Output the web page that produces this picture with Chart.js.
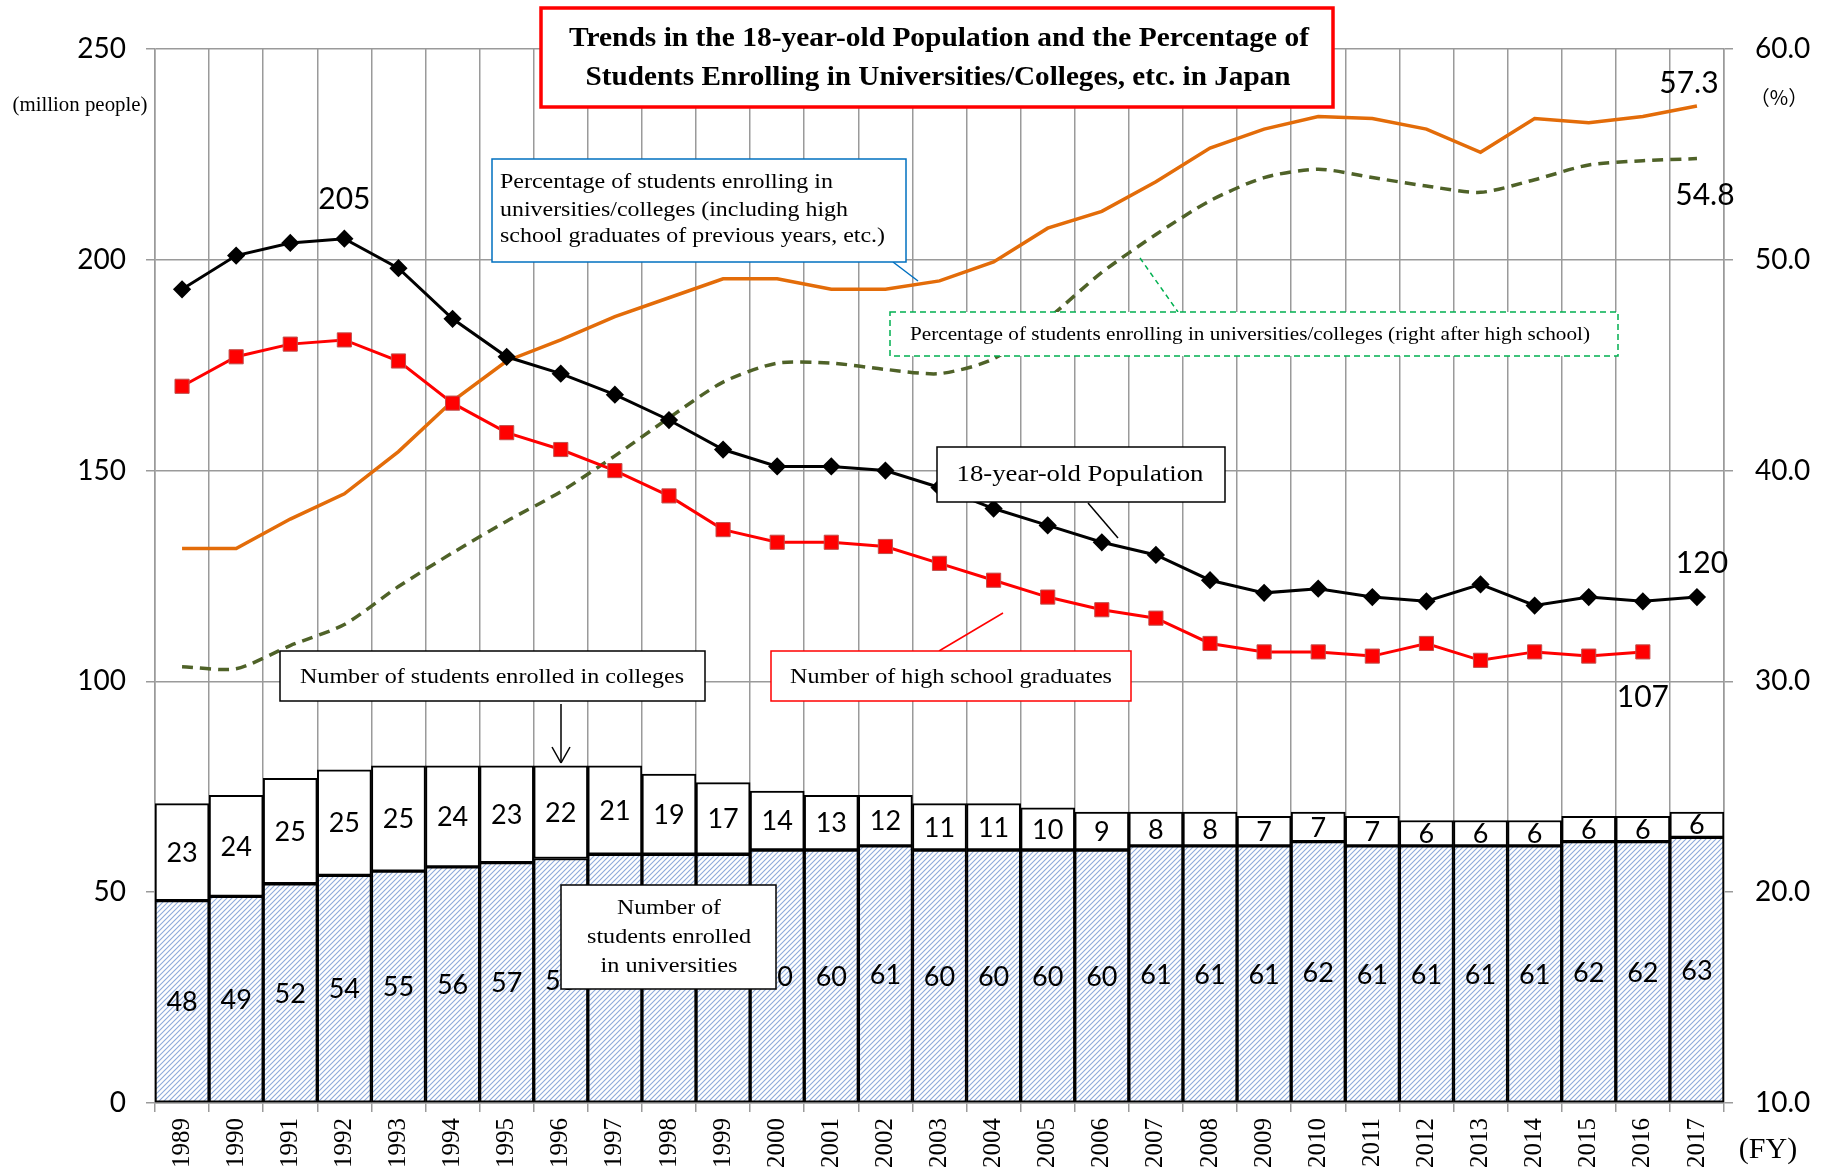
<!DOCTYPE html>
<html>
<head>
<meta charset="utf-8">
<script src="https://cdn.jsdelivr.net/npm/chart.js@4.4.1/dist/chart.umd.min.js"></script>
<style>
  html, body { margin: 0; padding: 0; background: #fff; }
  #wrap { width: 1825px; height: 1169px; }
</style>
</head>
<body>
<div id="wrap"><canvas id="myChart" width="1825" height="1169"></canvas></div>
<script>
// データ（年度別）
const years = ["1989","1990","1991","1992","1993","1994","1995","1996","1997","1998","1999","2000","2001","2002","2003","2004","2005","2006","2007","2008","2009","2010","2011","2012","2013","2014","2015","2016","2017"];
const univStudents = [48,49,52,54,55,56,57,58,59,59,59,60,60,61,60,60,60,60,61,61,61,62,61,61,61,61,62,62,63];
const collegeStudents = [23,24,25,25,25,24,23,22,21,19,17,14,13,12,11,11,10,9,8,8,7,7,7,6,6,6,6,6,6];
const pop18 = [193,201,204,205,198,186,177,173,168,162,155,151,151,150,146,141,137,133,130,124,121,122,120,119,123,118,120,119,120];
const hsGrads = [170,177,180,181,176,166,159,155,150,144,136,133,133,132,128,124,120,117,115,109,107,107,106,109,105,107,106,107,null];
const rateAll = [36.3,36.3,37.7,38.9,40.9,43.3,45.2,46.2,47.3,48.2,49.1,49.1,48.6,48.6,49.0,49.9,51.5,52.3,53.7,55.3,56.2,56.8,56.7,56.2,55.1,56.7,56.5,56.8,57.3];
const rateNew = [30.7,30.6,31.7,32.7,34.5,36.1,37.6,39.0,40.7,42.5,44.2,45.1,45.1,44.8,44.6,45.3,47.2,49.4,51.2,52.8,53.9,54.3,53.9,53.5,53.2,53.8,54.5,54.7,54.8];
const leftTicks = [0, 50, 100, 150, 200, 250];
const rightTicks = [10, 20, 30, 40, 50, 60];

const SANS = "Lato, 'Open Sans', sans-serif";
const SERIF = "'Liberation Serif', 'Times New Roman', serif";

Chart.defaults.font.family = SANS;
Chart.defaults.color = "#000";

// 斜線パターン（大学在学者）
function hatch() {
    const c = document.createElement("canvas");
    c.width = 5; c.height = 5;
    const p = c.getContext("2d");
    p.fillStyle = "#fff";
    p.fillRect(0, 0, 5, 5);
    p.strokeStyle = "#8eaadb";
    p.lineWidth = 1.1;
    p.beginPath();
    p.moveTo(-1, 6); p.lineTo(6, -1);
    p.moveTo(-3.5, 3.5); p.lineTo(3.5, -3.5);
    p.moveTo(1.5, 8.5); p.lineTo(8.5, 1.5);
    p.stroke();
    return p.createPattern(c, "repeat");
}

function fitText(ctx, text, x, y, width, align) {
    const w = ctx.measureText(text).width;
    const sx = width ? width / w : 1;
    ctx.save();
    ctx.translate(x, y);
    ctx.scale(sx, 1);
    ctx.textAlign = align || "center";
    ctx.textBaseline = "middle";
    ctx.fillText(text, 0, 0);
    ctx.restore();
}

function box(ctx, x1, y1, x2, y2, color, lw, dash) {
    ctx.save();
    ctx.fillStyle = "#fff";
    ctx.fillRect(x1, y1, x2 - x1, y2 - y1);
    ctx.strokeStyle = color;
    ctx.lineWidth = lw;
    ctx.setLineDash(dash || []);
    ctx.strokeRect(x1, y1, x2 - x1, y2 - y1);
    ctx.restore();
}

function line(ctx, x1, y1, x2, y2, color, lw, dash) {
    ctx.save();
    ctx.strokeStyle = color;
    ctx.lineWidth = lw;
    ctx.setLineDash(dash || []);
    ctx.beginPath();
    ctx.moveTo(x1, y1);
    ctx.lineTo(x2, y2);
    ctx.stroke();
    ctx.restore();
}

// 棒グラフの数値ラベル
const barLabels = {
    id: "barLabels",
    afterDatasetsDraw(chart) {
        const ctx = chart.ctx;
        ctx.save();
        ctx.font = "27px " + SANS;
        ctx.fillStyle = "#000";
        ctx.textAlign = "center";
        ctx.textBaseline = "middle";
        [0, 1].forEach(di => {
            chart.getDatasetMeta(di).data.forEach((bar, i) => {
                const v = chart.data.datasets[di].data[i];
                ctx.fillText(String(v), bar.x, (bar.y + bar.base) / 2 + 1);
            });
        });
        // 端点の値
        const x = chart.scales.x, y = chart.scales.y, y2 = chart.scales.y2;
        ctx.font = "30px " + SANS;
        ctx.fillText("205", x.getPixelForValue(3), y.getPixelForValue(pop18[3]) - 39);
        ctx.fillText("120", x.getPixelForValue(28) + 5, y.getPixelForValue(pop18[28]) - 34);
        ctx.fillText("107", x.getPixelForValue(27), y.getPixelForValue(hsGrads[27]) + 45);
        ctx.fillText("57.3", x.getPixelForValue(28) - 8, y2.getPixelForValue(rateAll[28]) - 23);
        ctx.fillText("54.8", x.getPixelForValue(28) + 8, y2.getPixelForValue(rateNew[28]) + 37);
        ctx.restore();
    }
};

// 注釈ボックス
const notes = {
    id: "notes",
    afterDraw(chart) {
        const ctx = chart.ctx;
        ctx.save();
        ctx.fillStyle = "#000";

        ctx.font = "21px " + SERIF;
        fitText(ctx, "(million people)", 80, 105, 135);
        ctx.font = "20px 'Noto Sans CJK JP'";
        fitText(ctx, "（%）", 1779, 97);
        ctx.font = "30px " + SERIF;
        fitText(ctx, "(FY)", 1768, 1150);

        // タイトル
        box(ctx, 541, 8, 1333, 107, "#ff0000", 3.5);
        ctx.font = "bold 27px " + SERIF;
        fitText(ctx, "Trends in the 18-year-old Population and the Percentage of", 939, 39, 740);
        fitText(ctx, "Students Enrolling in Universities/Colleges, etc. in Japan", 938, 78, 705);

        // 進学率（過年度含む）
        line(ctx, 893, 262, 918, 281, "#0070c0", 1.5);
        box(ctx, 492, 159, 906, 262, "#0070c0", 1.5);
        ctx.font = "20px " + SERIF;
        fitText(ctx, "Percentage of students enrolling in", 500, 183, 333, "left");
        fitText(ctx, "universities/colleges (including high", 500, 211, 348, "left");
        fitText(ctx, "school graduates of previous years, etc.)", 500, 237, 385, "left");

        // 進学率（現役）
        line(ctx, 1140, 258, 1178, 312, "#00b050", 1.5, [5, 4]);
        box(ctx, 890, 312, 1618, 356, "#00b050", 1.5, [6, 4]);
        ctx.font = "18px " + SERIF;
        fitText(ctx, "Percentage of students enrolling in universities/colleges (right after high school)", 1250, 335, 680);

        // 18歳人口
        line(ctx, 1088, 503, 1118, 538, "#000", 1.5);
        box(ctx, 937, 447, 1225, 502, "#000", 1.5);
        ctx.font = "23px " + SERIF;
        fitText(ctx, "18-year-old Population", 1080, 475, 247);

        // 高校卒業者数
        line(ctx, 939, 651, 1003, 613, "#ff0000", 1.5);
        box(ctx, 771, 651, 1131, 701, "#ff0000", 1.5);
        ctx.font = "21px " + SERIF;
        fitText(ctx, "Number of high school graduates", 951, 677, 322);

        // 短大在学者
        box(ctx, 280, 651, 705, 701, "#000", 1.5);
        fitText(ctx, "Number of students enrolled in colleges", 492, 677, 384);
        line(ctx, 561, 704, 561, 762, "#000", 1.5);
        line(ctx, 552, 747, 561, 763, "#000", 1.5);
        line(ctx, 570, 747, 561, 763, "#000", 1.5);

        // 大学在学者
        box(ctx, 561, 885, 776, 989, "#000", 1.5);
        ctx.font = "20px " + SERIF;
        fitText(ctx, "Number of", 669, 909, 104);
        fitText(ctx, "students enrolled", 669, 938, 164);
        fitText(ctx, "in universities", 669, 967, 137);
        ctx.restore();
    }
};

const ctx = document.getElementById("myChart").getContext("2d");
const myChart = new Chart(ctx, {
    type: "bar",
    data: {
        labels: years,
        datasets: [
            {
                label: "Number of students enrolled in universities",
                data: univStudents,
                stack: "students",
                backgroundColor: hatch(),
                borderColor: "#000",
                borderWidth: 2,
                borderSkipped: false,
                barPercentage: 1,
                categoryPercentage: 1,
                order: 5,
            },
            {
                label: "Number of students enrolled in colleges",
                data: collegeStudents,
                stack: "students",
                backgroundColor: "#fff",
                borderColor: "#000",
                borderWidth: 2,
                borderSkipped: false,
                barPercentage: 1,
                categoryPercentage: 1,
                order: 5,
            },
            {
                type: "line",
                label: "18-year-old Population",
                data: pop18,
                stack: "pop",
                borderColor: "#000",
                backgroundColor: "#000",
                borderWidth: 3,
                pointStyle: "rectRot",
                pointRadius: 7,
                tension: 0,
                order: 1,
            },
            {
                type: "line",
                label: "Number of high school graduates",
                data: hsGrads,
                stack: "hs",
                borderColor: "#ff0000",
                backgroundColor: "#ff0000",
                borderWidth: 3,
                pointStyle: "rect",
                pointRadius: 10,
                pointBorderColor: "#c0504d",
                pointBorderWidth: 1,
                tension: 0,
                order: 1,
            },
            {
                type: "line",
                label: "Percentage (including previous years)",
                data: rateAll,
                yAxisID: "y2",
                borderColor: "#e36c09",
                borderWidth: 3.5,
                pointRadius: 0,
                tension: 0,
                order: 2,
            },
            {
                type: "line",
                label: "Percentage (right after high school)",
                data: rateNew,
                yAxisID: "y2",
                borderColor: "#4f6228",
                borderWidth: 3.5,
                borderDash: [11, 7],
                pointRadius: 0,
                tension: 0.25,
                order: 2,
            },
        ],
    },
    options: {
        responsive: false,
        animation: false,
        devicePixelRatio: 1,
        layout: { padding: { top: 49, left: 0, right: 0, bottom: 0 } },
        plugins: {
            legend: { display: false },
            tooltip: { enabled: false },
        },
        scales: {
            x: {
                stacked: true,
                grid: { offset: true, color: "#9a9a9a", lineWidth: 1.5, tickLength: 9 },
                border: { color: "#9a9a9a", width: 1.5 },
                ticks: {
                    minRotation: 90,
                    maxRotation: 90,
                    padding: 6,
                    font: { family: SERIF, size: 25 },
                },
                afterFit: (s) => { s.height = 66; },
            },
            y: {
                stacked: true,
                min: 0,
                max: 250,
                afterBuildTicks: (s) => { s.ticks = leftTicks.map(v => ({ value: v })); },
                grid: { color: "#9a9a9a", lineWidth: 1.5, tickLength: 9 },
                border: { color: "#9a9a9a", width: 1.5 },
                ticks: { padding: 20, font: { size: 28 } },
                afterFit: (s) => { s.width = 155; },
            },
            y2: {
                position: "right",
                min: 10,
                max: 60,
                afterBuildTicks: (s) => { s.ticks = rightTicks.map(v => ({ value: v })); },
                grid: { drawOnChartArea: false, color: "#9a9a9a", lineWidth: 1.5, tickLength: 9 },
                border: { color: "#9a9a9a", width: 1.5 },
                ticks: { padding: 22, font: { size: 28 }, callback: (v) => v.toFixed(1) },
                afterFit: (s) => { s.width = 101; },
            },
        },
    },
    plugins: [barLabels, notes],
});
</script>
</body>
</html>
